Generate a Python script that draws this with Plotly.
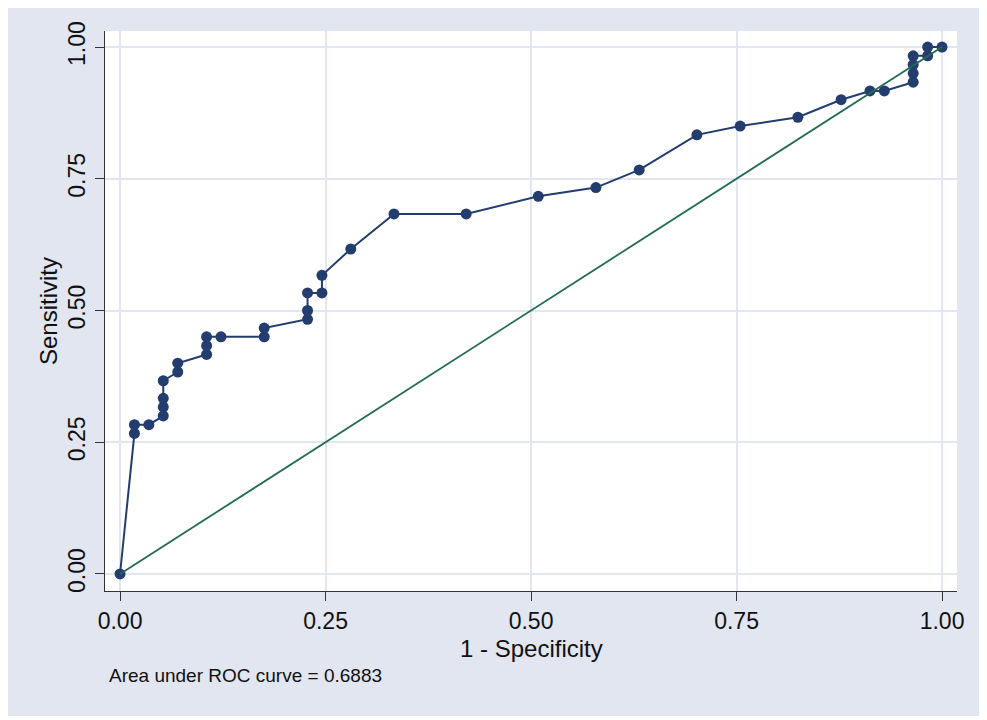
import plotly.graph_objects as go

# ROC curve points (1 - specificity, sensitivity)
fpr = [0.0, 0.0175, 0.0175, 0.0351, 0.0526, 0.0526, 0.0526, 0.0526, 0.0702, 0.0702,
       0.1053, 0.1053, 0.1053, 0.1228, 0.1754, 0.1754, 0.2281, 0.2281, 0.2281, 0.2456,
       0.2456, 0.2807, 0.3333, 0.4211, 0.5088, 0.5789, 0.6316, 0.7018, 0.7544, 0.8246,
       0.8772, 0.9123, 0.9298, 0.9649, 0.9649, 0.9649, 0.9649, 0.9825, 0.9825, 1.0]
tpr = [0.0, 0.2667, 0.2833, 0.2833, 0.3, 0.3167, 0.3333, 0.3667, 0.3833, 0.4,
       0.4167, 0.4333, 0.45, 0.45, 0.45, 0.4667, 0.4833, 0.5, 0.5333, 0.5333,
       0.5667, 0.6167, 0.6833, 0.6833, 0.7167, 0.7333, 0.7667, 0.8333, 0.85, 0.8667,
       0.9, 0.9167, 0.9167, 0.9333, 0.95, 0.9667, 0.9833, 0.9833, 1.0, 1.0]

# reference diagonal
ref_x = [0, 1]
ref_y = [0, 1]

tick_vals = [0, 0.25, 0.5, 0.75, 1]
tick_text = ["0.00", "0.25", "0.50", "0.75", "1.00"]
auc_text = "Area under ROC curve = 0.6883"

navy = "#233D6E"
green = "#236B56"
bg = "#E1E6F0"
font = "Liberation Sans, Arial, sans-serif"

fig = go.Figure()

fig.add_trace(go.Scatter(
    x=fpr, y=tpr, mode="lines+markers",
    line=dict(color=navy, width=2),
    marker=dict(color=navy, size=11),
    showlegend=False, cliponaxis=False,
))
fig.add_trace(go.Scatter(
    x=ref_x, y=ref_y, mode="lines",
    line=dict(color=green, width=1.8),
    showlegend=False, cliponaxis=False,
))

axis_common = dict(
    tickvals=tick_vals, ticktext=tick_text,
    showgrid=True, gridcolor=bg, gridwidth=2,
    zeroline=False, showline=True, linecolor="#333333", linewidth=1.2,
    ticks="outside", ticklen=9, tickcolor="#333333", tickwidth=1.2,
    tickfont=dict(family=font, size=23, color="#111111"),
)

fig.update_layout(
    width=975, height=708,
    margin=dict(l=97, r=26, t=23, b=125),
    paper_bgcolor=bg, plot_bgcolor="white",
    font=dict(family=font, color="#111111"),
    xaxis=dict(axis_common, range=[-0.0183, 1.0182]),
    yaxis=dict(axis_common, range=[-0.0323, 1.0304], tickangle=-90,
               ticklabelstandoff=1),
    annotations=[
        # axis titles
        dict(text="1 - Specificity", xref="paper", yref="paper", x=0.5, y=-0.1018,
             xanchor="center", yanchor="middle", showarrow=False,
             font=dict(family=font, size=24, color="#111111")),
        dict(text="Sensitivity", xref="paper", yref="paper", x=-0.0669, y=0.5,
             xanchor="center", yanchor="middle", textangle=-90, showarrow=False,
             font=dict(family=font, size=24, color="#111111")),
        # note
        dict(text=auc_text, xref="paper", yref="paper", x=0.002, y=-0.15,
             xanchor="left", yanchor="middle", showarrow=False,
             font=dict(family=font, size=19, color="#111111")),
    ],
)

fig.write_html("out.html")
